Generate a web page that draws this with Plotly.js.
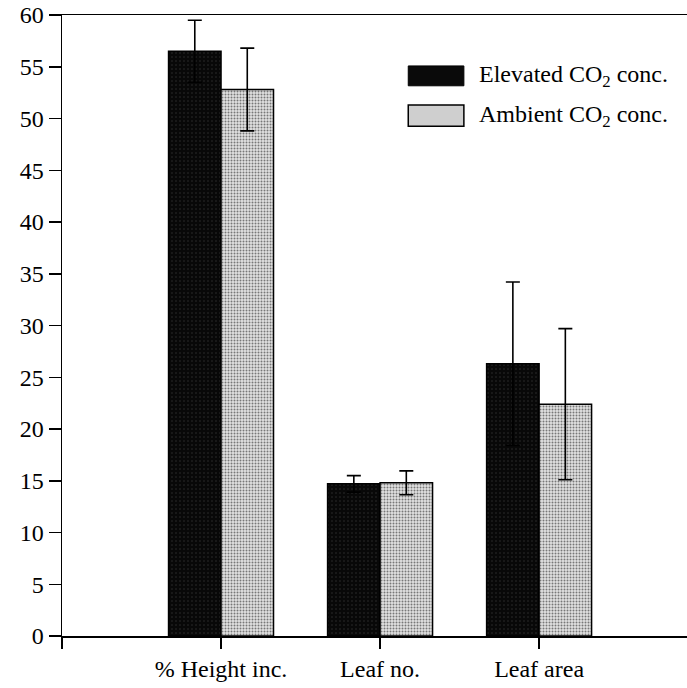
<!DOCTYPE html>
<html>
<head>
<meta charset="utf-8">
<script src="https://cdn.plot.ly/plotly-3.0.1.min.js"></script>
<style>
  html, body { margin: 0; padding: 0; background: #fff; }
  #chart { width: 687px; height: 688px; }
</style>
</head>
<body>
<div id="chart"></div>
<script>
// Growth responses under elevated vs ambient CO2
const categories = ['% Height inc.', 'Leaf no.', 'Leaf area'];
const elevated = [56.5, 14.7, 26.3];
const elevatedErr = [3.0, 0.8, 7.9];
const ambient = [52.8, 14.8, 22.4];
const ambientErr = [4.0, 1.15, 7.3];
const yTicks = [0, 5, 10, 15, 20, 25, 30, 35, 40, 45, 50, 55, 60];

const xPos = categories.map((_, i) => i + 1);
const serif = 'Liberation Serif, Times New Roman, serif';
const FS = 24;

const errStyle = { type: 'data', visible: true, color: '#000', thickness: 1.6, width: 7 };

const traces = [
  {
    type: 'bar', name: 'Elevated', x: xPos, y: elevated,
    error_y: Object.assign({ array: elevatedErr }, errStyle),
    marker: {
      color: '#0a0a0a',
      line: { color: '#000', width: 1.5 },
      pattern: { shape: '.', bgcolor: '#080808', fgcolor: '#2e2e2e', size: 4, solidity: 0.12, fillmode: 'replace' }
    },
    showlegend: false
  },
  {
    type: 'bar', name: 'Ambient', x: xPos, y: ambient,
    error_y: Object.assign({ array: ambientErr }, errStyle),
    marker: {
      color: '#c8c8c8',
      line: { color: '#000', width: 1.5 },
      pattern: { shape: '.', bgcolor: '#e2e2e2', fgcolor: '#777', size: 3, solidity: 0.35, fillmode: 'replace' }
    },
    showlegend: false
  }
];

const layout = {
  width: 687, height: 688,
  margin: { l: 62, r: 0, t: 15, b: 52 },
  paper_bgcolor: '#fff', plot_bgcolor: '#fff',
  barmode: 'group', bargap: 0.34, bargroupgap: 0,
  showlegend: false,
  font: { family: serif, color: '#000', size: FS },
  xaxis: {
    range: [0, 3.93], tickmode: 'array',
    tickvals: xPos, ticktext: categories,
    ticks: 'outside', ticklen: 11, tickwidth: 1.5, tickcolor: '#000',
    minor: { tickmode: 'array', tickvals: [0], ticks: 'outside', ticklen: 11, tickwidth: 1.5, tickcolor: '#000', showgrid: false },
    showline: true, linecolor: '#000', linewidth: 1.5, mirror: true,
    showgrid: false, zeroline: false,
    tickfont: { family: serif, size: FS, color: '#000' }
  },
  yaxis: {
    range: [0, 60], tickmode: 'array', tickvals: yTicks,
    ticks: 'outside', ticklen: 12, tickwidth: 1.5, tickcolor: '#000',
    showline: true, linecolor: '#000', linewidth: 1.5,
    showgrid: false, zeroline: false,
    tickfont: { family: serif, size: FS, color: '#000' }
  },
  shapes: [
    { type: 'rect', xref: 'paper', yref: 'paper', x0: 0.554, x1: 0.643, y0: 0.886, y1: 0.918,
      fillcolor: '#0a0a0a', line: { color: '#000', width: 1 } },
    { type: 'rect', xref: 'paper', yref: 'paper', x0: 0.554, x1: 0.643, y0: 0.821, y1: 0.855,
      fillcolor: '#cfcfcf', line: { color: '#000', width: 1.5 } }
  ],
  annotations: [
    { xref: 'paper', yref: 'paper', x: 0.664, y: 0.902, xanchor: 'left', yanchor: 'middle',
      text: 'Elevated CO<sub>2</sub> conc.', showarrow: false, font: { family: serif, size: FS, color: '#000' } },
    { xref: 'paper', yref: 'paper', x: 0.664, y: 0.838, xanchor: 'left', yanchor: 'middle',
      text: 'Ambient CO<sub>2</sub> conc.', showarrow: false, font: { family: serif, size: FS, color: '#000' } }
  ]
};

Plotly.newPlot('chart', traces, layout, { displayModeBar: false, staticPlot: true });
</script>
</body>
</html>
